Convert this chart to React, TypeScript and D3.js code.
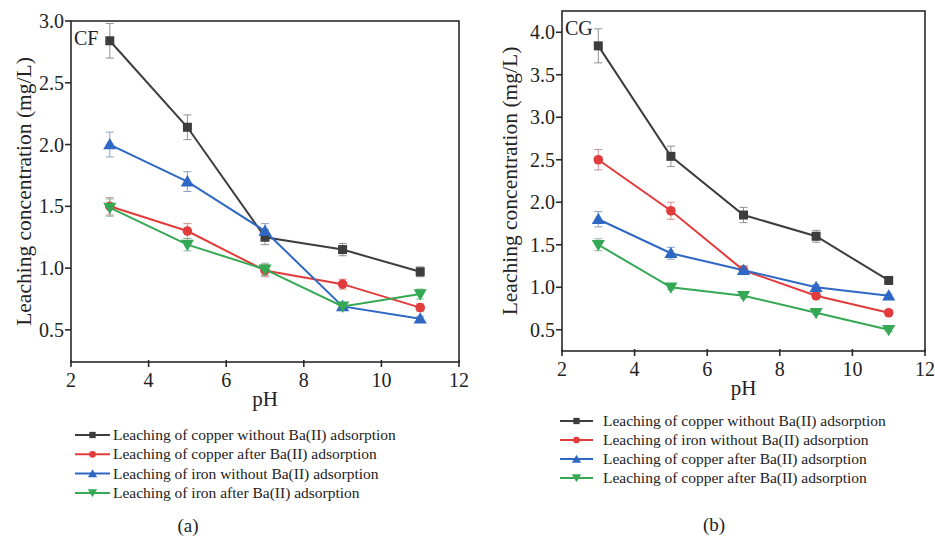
import React from "react";
import * as d3 from "d3";

const pH = [3, 5, 7, 9, 11];
const xTicks = [2, 4, 6, 8, 10, 12];

// Panel (a) CF
const cfCopperWithout = [2.84, 2.14, 1.25, 1.15, 0.97];
const cfCopperWithoutErr = [0.14, 0.1, 0.06, 0.05, 0.04];
const cfCopperAfter = [1.5, 1.3, 0.98, 0.87, 0.68];
const cfCopperAfterErr = [0.07, 0.06, 0.05, 0.04, 0.03];
const cfIronWithout = [2.0, 1.7, 1.3, 0.69, 0.59];
const cfIronWithoutErr = [0.1, 0.08, 0.06, 0.03, 0.02];
const cfIronAfter = [1.49, 1.19, 0.99, 0.69, 0.79];
const cfIronAfterErr = [0.07, 0.05, 0.05, 0.03, 0.04];
const cfYTicks = [0.5, 1.0, 1.5, 2.0, 2.5, 3.0];
const cfLegend = [
  "Leaching of copper without Ba(II) adsorption",
  "Leaching of copper after Ba(II) adsorption",
  "Leaching of iron without Ba(II) adsorption",
  "Leaching of iron after Ba(II) adsorption",
];

// Panel (b) CG
const cgCopperWithout = [3.84, 2.54, 1.85, 1.6, 1.08];
const cgCopperWithoutErr = [0.2, 0.12, 0.09, 0.07, 0.04];
const cgIronWithout = [2.5, 1.9, 1.2, 0.9, 0.7];
const cgIronWithoutErr = [0.12, 0.1, 0.05, 0.03, 0.02];
const cgCopperAfter = [1.8, 1.4, 1.2, 1.0, 0.9];
const cgCopperAfterErr = [0.09, 0.07, 0.05, 0.03, 0.02];
const cgCopperAfter2 = [1.5, 1.0, 0.9, 0.7, 0.5];
const cgCopperAfter2Err = [0.07, 0.03, 0.03, 0.02, 0.02];
const cgYTicks = [0.5, 1.0, 1.5, 2.0, 2.5, 3.0, 3.5, 4.0];
const cgLegend = [
  "Leaching of copper without Ba(II) adsorption",
  "Leaching of iron without Ba(II) adsorption",
  "Leaching of copper after Ba(II) adsorption",
  "Leaching of copper after Ba(II) adsorption",
];

const COLORS = ["#3d3d3d", "#e23b3b", "#2e68c4", "#34a853"];
const SHAPES = ["square", "circle", "triangle", "triangleDown"];
const FONT = "Liberation Serif";

type Series = { values: number[]; err: number[]; color: string; shape: string };

function Marker({ shape, x, y, color, s = 1 }: { shape: string; x: number; y: number; color: string; s?: number }) {
  if (shape === "square") return <rect x={x - 4.5 * s} y={y - 4.5 * s} width={9 * s} height={9 * s} fill={color} />;
  if (shape === "circle") return <circle cx={x} cy={y} r={4.8 * s} fill={color} />;
  const sym = d3.symbol().type(d3.symbolTriangle).size(75 * s * s)();
  return (
    <path d={sym as string} transform={`translate(${x},${y + (shape === "triangleDown" ? -1 : 1)}) rotate(${shape === "triangleDown" ? 180 : 0})`} fill={color} />
  );
}

function Panel({
  left, right, top, bottom, yDomain, yTicks, series, tag, labelOffset,
}: {
  left: number; right: number; top: number; bottom: number; yDomain: [number, number]; yTicks: number[]; series: Series[]; tag: string; labelOffset: number;
}) {
  const x = d3.scaleLinear().domain([2, 12]).range([left, right]);
  const y = d3.scaleLinear().domain(yDomain).range([bottom, top]);
  const line = d3.line<number>().x((_, i) => x(pH[i])).y((v) => y(v));
  return (
    <g style={{ fontFamily: FONT }} fill="#222">
      <rect x={left} y={top} width={right - left} height={bottom - top} fill="none" stroke="#2a2a2a" strokeWidth={1.6} />
      {xTicks.map((t) => (
        <g key={t}>
          <line x1={x(t)} x2={x(t)} y1={bottom - 2} y2={bottom + 5} stroke="#2a2a2a" strokeWidth={1.6} />
          <text x={x(t)} y={bottom + 25} textAnchor="middle" fontSize={20}>{t}</text>
        </g>
      ))}
      {yTicks.map((t) => (
        <g key={t}>
          <line x1={left - 6} x2={left} y1={y(t)} y2={y(t)} stroke="#2a2a2a" strokeWidth={1.6} />
          <text x={left - 7} y={y(t) + 7} textAnchor="end" fontSize={20}>{t.toFixed(1)}</text>
        </g>
      ))}
      <text x={(left + right) / 2} y={bottom + 44} textAnchor="middle" fontSize={21}>pH</text>
      <text transform={`translate(${left - labelOffset},${(top + bottom) / 2}) rotate(-90)`} textAnchor="middle" fontSize={21.5}>
        Leaching concentration (mg/L)
      </text>
      <text x={left + 3} y={top + 24} fontSize={20}>{tag}</text>
      {series.map((s, si) => (
        <g key={"e" + si}>
          {s.values.map((v, i) => (
            <g key={i} stroke={d3.interpolateRgb(s.color, "#b8b8b8")(0.6)} strokeWidth={1} opacity={0.9}>
              <line x1={x(pH[i])} x2={x(pH[i])} y1={y(v - s.err[i])} y2={y(v + s.err[i])} />
              <line x1={x(pH[i]) - 4} x2={x(pH[i]) + 4} y1={y(v - s.err[i])} y2={y(v - s.err[i])} />
              <line x1={x(pH[i]) - 4} x2={x(pH[i]) + 4} y1={y(v + s.err[i])} y2={y(v + s.err[i])} />
            </g>
          ))}
        </g>
      ))}
      {series.map((s, si) => (
        <g key={"l" + si}>
          <path d={line(s.values) as string} fill="none" stroke={s.color} strokeWidth={2} />
          {s.values.map((v, i) => (
            <Marker key={i} shape={s.shape} x={x(pH[i])} y={y(v)} color={s.color} />
          ))}
        </g>
      ))}
    </g>
  );
}

function Legend({ x0, y0, dy, labels, lineLen, gap }: { x0: number; y0: number; dy: number; labels: string[]; lineLen: number; gap: number }) {
  return (
    <g style={{ fontFamily: FONT }} fontSize={15.5} fill="#222">
      {labels.map((lab, i) => (
        <g key={i}>
          <line x1={x0} x2={x0 + lineLen} y1={y0 + i * dy} y2={y0 + i * dy} stroke={COLORS[i]} strokeWidth={2} />
          <Marker shape={SHAPES[i]} x={x0 + lineLen / 2} y={y0 + i * dy} color={COLORS[i]} s={0.7} />
          <text x={x0 + lineLen + gap} y={y0 + i * dy + 5}>{lab}</text>
        </g>
      ))}
    </g>
  );
}

export default function App() {
  const cf: Series[] = [
    { values: cfCopperWithout, err: cfCopperWithoutErr, color: COLORS[0], shape: SHAPES[0] },
    { values: cfCopperAfter, err: cfCopperAfterErr, color: COLORS[1], shape: SHAPES[1] },
    { values: cfIronWithout, err: cfIronWithoutErr, color: COLORS[2], shape: SHAPES[2] },
    { values: cfIronAfter, err: cfIronAfterErr, color: COLORS[3], shape: SHAPES[3] },
  ];
  const cg: Series[] = [
    { values: cgCopperWithout, err: cgCopperWithoutErr, color: COLORS[0], shape: SHAPES[0] },
    { values: cgIronWithout, err: cgIronWithoutErr, color: COLORS[1], shape: SHAPES[1] },
    { values: cgCopperAfter, err: cgCopperAfterErr, color: COLORS[2], shape: SHAPES[2] },
    { values: cgCopperAfter2, err: cgCopperAfter2Err, color: COLORS[3], shape: SHAPES[3] },
  ];
  return (
    <svg width={935} height={539} style={{ position: "absolute", left: 0, top: 0, background: "#fff" }}>
      <Panel left={71} right={459} top={21} bottom={362} yDomain={[0.24, 3.0]} yTicks={cfYTicks} series={cf} tag="CF" labelOffset={40} />
      <Panel left={562} right={925} top={11} bottom={351} yDomain={[0.25, 4.25]} yTicks={cgYTicks} series={cg} tag="CG" labelOffset={45} />
      <Legend x0={75} y0={435} dy={19.3} labels={cfLegend} lineLen={35} gap={3} />
      <Legend x0={560} y0={421} dy={19} labels={cgLegend} lineLen={33} gap={10} />
      <text x={188} y={532} textAnchor="middle" style={{ fontFamily: FONT }} fontSize={19} fill="#222">(a)</text>
      <text x={714} y={531} textAnchor="middle" style={{ fontFamily: FONT }} fontSize={19} fill="#222">(b)</text>
    </svg>
  );
}
